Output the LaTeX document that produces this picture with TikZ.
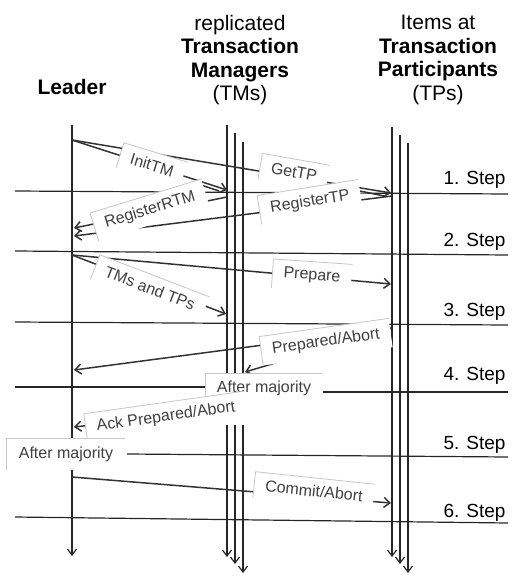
\documentclass[tikz,border=0pt]{standalone}
\usepackage{fontspec}
\setmainfont{Liberation Sans}
\usetikzlibrary{arrows.meta}

\begin{document}
\begin{tikzpicture}[x=1pt,y=-1pt,
  ink/.style={draw=black!85, line width=1.2pt},
  lifeline/.style={ink},
  lifearrow/.style={ink, -{Straight Barb[length=6pt,width=9pt]}},
  stepline/.style={ink},
  msg/.style={draw=black!80, line width=1.5pt},
  msgarrow/.style={msg, -{Straight Barb[length=6pt,width=10pt]}},
  lbl/.style={fill=white, text=black!75, font=\fontsize{16}{18}\selectfont,
    inner xsep=11pt, inner ysep=7pt,
    append after command={
      (\tikzlastnode.south west) edge[draw=gray!45, line width=0.8pt] (\tikzlastnode.north west)
      (\tikzlastnode.north west) edge[draw=gray!45, line width=0.8pt] (\tikzlastnode.north east)}},
  head/.style={align=center, font=\fontsize{21}{23.5}\selectfont},
  steplbl/.style={anchor=east, font=\fontsize{19}{22}\selectfont}
]
\useasboundingbox (0,0) rectangle (512,576);

% column headers
\node[head] (hL) at (72,87) {\bfseries Leader};
\node[head] (hTM) at (240,60) {replicated\\\textbf{Transaction}\\\textbf{Managers}\\(TMs)};
\node[head] (hTP) at (438,60) {Items at\\\textbf{Transaction}\\\textbf{Participants}\\(TPs)};

% step separators
\coordinate (s1a) at (15,191);  \coordinate (s1b) at (508,194);
\coordinate (s2a) at (15,251);  \coordinate (s2b) at (508,255);
\coordinate (s3a) at (15,322);  \coordinate (s3b) at (508,325);
\coordinate (s4a) at (15,387);  \coordinate (s4m) at (208,387);
\coordinate (s4n) at (323,392); \coordinate (s4b) at (508,392);
\coordinate (s5a) at (127,454); \coordinate (s5b) at (508,457);
\coordinate (s6a) at (15,517);  \coordinate (s6b) at (508,523);
\draw[stepline] (s1a) -- (s1b);
\draw[stepline] (s2a) -- (s2b);
\draw[stepline] (s3a) -- (s3b);
\draw[stepline] (s4a) -- (s4m);
\draw[stepline] (s4n) -- (s4b);
\draw[stepline] (s5a) -- (s5b);
\draw[stepline] (s6a) -- (s6b);

\node[steplbl] (st1) at (509,180) {1. Step};
\node[steplbl] (st2) at (509,242) {2. Step};
\node[steplbl] (st3) at (509,312) {3. Step};
\node[steplbl] (st4) at (509,376) {4. Step};
\node[steplbl] (st5) at (509,445) {5. Step};
\node[steplbl] (st6) at (509,513) {6. Step};

% lifelines: leader, three TM replicas, three TP items
\coordinate (L0) at (72,125);  \coordinate (L1) at (72,556);
\coordinate (ma0) at (227,125); \coordinate (ma1) at (227,374);
\coordinate (ma2) at (227,425); \coordinate (ma3) at (227,557);
\coordinate (mb0) at (235,133); \coordinate (mb1) at (235,374);
\coordinate (mb2) at (235,425); \coordinate (mb3) at (235,564);
\coordinate (mc0) at (243,142); \coordinate (mc1) at (243,374);
\coordinate (mc2) at (243,425); \coordinate (mc3) at (243,573);
\coordinate (pa0) at (392,127); \coordinate (pa1) at (392,557);
\coordinate (pb0) at (400,135); \coordinate (pb1) at (400,564);
\coordinate (pc0) at (408,143); \coordinate (pc1) at (408,573);
\draw[lifearrow] (L0) -- (L1);
\draw[lifeline] (ma0) -- (ma1);  \draw[lifearrow] (ma2) -- (ma3);
\draw[lifeline] (mb0) -- (mb1);  \draw[lifearrow] (mb2) -- (mb3);
\draw[lifeline] (mc0) -- (mc1);  \draw[lifearrow] (mc2) -- (mc3);
\draw[lifearrow] (pa0) -- (pa1);
\draw[lifearrow] (pb0) -- (pb1);
\draw[lifearrow] (pc0) -- (pc1);

% message end points
\coordinate (q1) at (72,140);
\coordinate (initT) at (227,190);
\coordinate (getT) at (391,193);
\coordinate (rrS) at (227,197);  \coordinate (rrT) at (74,228);
\coordinate (rpS) at (392,196);  \coordinate (rpT) at (74,236);
\coordinate (q2) at (72,255);
\coordinate (tmT) at (226,314);
\coordinate (prT) at (391,284);
\coordinate (paS) at (392,328);  \coordinate (paT) at (74,370);
\coordinate (paM) at (245,372);
\coordinate (akS) at (227,410);  \coordinate (akT) at (74,427);
\coordinate (q3) at (72,477);
\coordinate (caT) at (391,503);
% second shafts of the fan-out arrows
\coordinate (d1a) at (195,183);  \coordinate (d1b) at (219,191);
\coordinate (d2a) at (360,191);  \coordinate (d2b) at (384,196);

% step 1
\draw[msgarrow] (q1) -- (initT);
\draw[msg] (d1a) -- (d1b);
\draw[msgarrow] (q1) -- (getT);
\draw[msg] (d2a) -- (d2b);
% step 2
\draw[msgarrow] (rrS) -- (rrT);
\draw[msgarrow] (rpS) -- (rpT);
% step 3
\draw[msgarrow] (q2) -- (tmT);
\draw[msgarrow] (q2) -- (prT);
% step 4
\draw[msgarrow] (paS) -- (paT);
\draw[msgarrow] (paS) -- (paM);
% step 5
\draw[msgarrow] (akS) -- (akT);
% step 6
\draw[msgarrow] (q3) -- (caT);

% message labels
\node[lbl, rotate=-17] (nInit) at (152,165) {InitTM};
\node[lbl, rotate=-10] (nGet) at (294,172) {GetTP};
\node[lbl, rotate=17] (nRR) at (150,210) {RegisterRTM};
\node[lbl, rotate=9] (nRP) at (310,202) {RegisterTP};
\node[lbl, rotate=-21] (nTT) at (150,288) {TMs and TPs};
\node[lbl, rotate=-4] (nPr) at (312,276) {Prepare};
\node[lbl, rotate=8] (nPA) at (326,342) {Prepared/Abort};
\node[lbl, minimum width=113pt, minimum height=28pt] (nAM1) at (264,388) {After majority};
\node[lbl, rotate=8] (nAck) at (166,417) {Ack Prepared/Abort};
\node[lbl, minimum width=118pt, minimum height=31pt] (nAM2) at (66,454) {After majority};
\node[lbl, rotate=-6] (nCA) at (314,491) {Commit/Abort};
\end{tikzpicture}
\end{document}
